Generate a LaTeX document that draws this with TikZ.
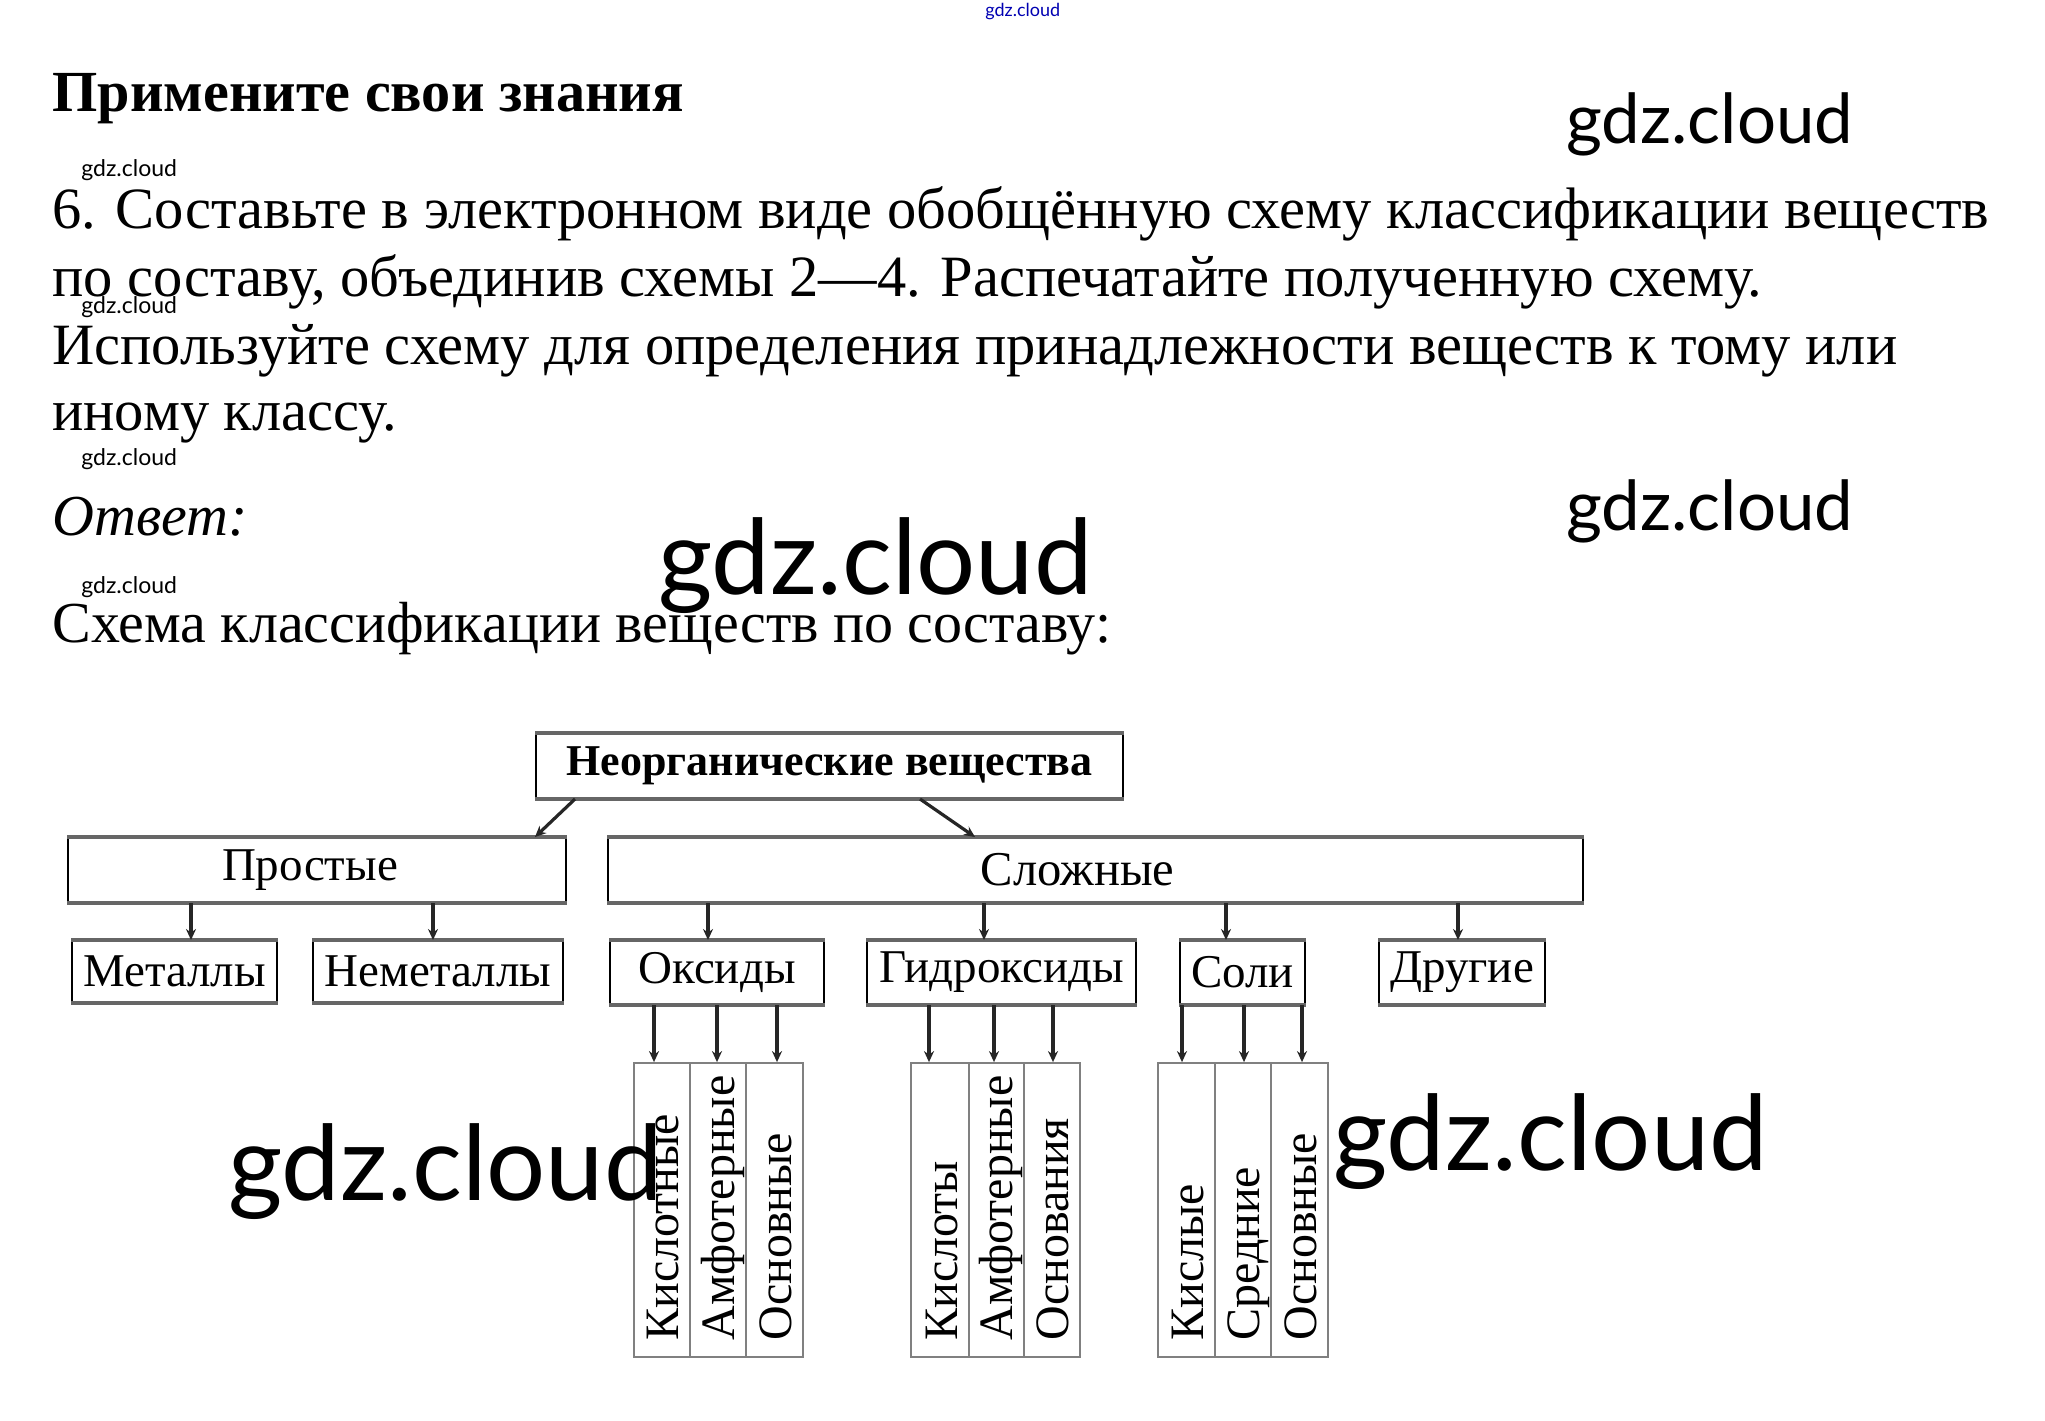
\documentclass[tikz,border=0pt]{standalone}
\usepackage{fontspec}
\setmainfont{Liberation Serif}
\newfontfamily\wmfont{Lato}
\usetikzlibrary{arrows.meta}
\newcommand\mkbox[7][0]{%
  \node[bx,minimum width={(#5-#3)*0.5pt},minimum height={(#6-#4)*0.5pt}] (#2) at ({(#3+#5)/2},{(#4+#6)/2}) {};
  \node[inner sep=0pt,font=\fontsize{23.5}{26}\selectfont] (#2t) at ([xshift=#1pt]#2.center) {#7};
  \draw[band] (#2.north west) -- (#2.north east);
  \draw[band] (#2.south west) -- (#2.south east);}
\newcommand\mkcol[4]{%
  \node[col,minimum width={(#3-#2)*0.5pt},minimum height=147pt] (#1) at ({(#2+#3)/2},1210) {};
  \node[coltext] (#1t) at ([xshift=-6pt,yshift=8.5pt]#1.south east) {#4};}
\begin{document}
\begin{tikzpicture}[x=0.5pt,y=-0.5pt,
  bx/.style={draw=black,line width=1pt,fill=white,inner sep=0pt},
  band/.style={draw=black!60,line width=2pt},
  col/.style={draw=black!50,line width=0.9pt,inner sep=0pt},
  coltext/.style={rotate=90,anchor=base west,inner sep=0pt,font=\fontsize{24}{26}\selectfont},
  arr/.style={draw=black!85,line width=1.6pt,-{Stealth[length=5.5pt,width=5pt]}},
  body/.style={anchor=base west,inner sep=0pt,font=\fontsize{29.25}{34}\selectfont},
  wm/.style={anchor=base west,inner sep=0pt}]
\useasboundingbox (0,0) rectangle (2045,1420);
\fill[white] (0,0) rectangle (2045,1420);
% texts
\node[body,font=\bfseries\fontsize{29.1}{32}\selectfont] (head) at (52,111) {Примените свои знания};
\node[body] (l1) at (52,228) {6. Составьте в электронном виде обобщённую схему классификации веществ};
\node[body] (l2) at (52,296) {по составу, объединив схемы 2—4. Распечатайте полученную схему.};
\node[body] (l3) at (52,364) {Используйте схему для определения принадлежности веществ к тому или};
\node[body] (l4) at (52,430) {иному классу.};
\node[body,font=\itshape\fontsize{29}{34}\selectfont] (otv) at (52,535) {Ответ:};
\node[body,font=\fontsize{29}{34}\selectfont] (sch) at (52,642) {Схема классификации веществ по составу:};
% boxes
\mkbox{top}{536}{734}{1123}{798}{\fontsize{22}{24}\selectfont\bfseries Неорганические вещества}
\mkbox[-3.5]{prost}{68}{838}{566}{902}{Простые}
\mkbox[-9]{slozh}{608}{838}{1583}{902}{\fontsize{24.3}{26}\selectfont Сложные}
\mkbox{met}{72}{941}{277}{1002}{Металлы}
\mkbox{nemet}{313}{941}{563}{1002}{Неметаллы}
\mkbox{oks}{610}{941}{824}{1004}{Оксиды}
\mkbox{gidr}{867}{941}{1136}{1004}{Гидроксиды}
\mkbox{soli}{1180}{941}{1305}{1004}{Соли}
\mkbox{drug}{1379}{941}{1545}{1004}{Другие}
% columns
\mkcol{ok1}{634}{690}{Кислотные}
\mkcol{ok2}{690}{746}{Амфотерные}
\mkcol{ok3}{746}{803}{Основные}
\mkcol{gi1}{911}{969}{Кислоты}
\mkcol{gi2}{969}{1024}{Амфотерные}
\mkcol{gi3}{1024}{1080}{Основания}
\mkcol{so1}{1158}{1215}{Кислые}
\mkcol{so2}{1215}{1271}{Средние}
\mkcol{so3}{1271}{1328}{Основные}
% arrows
\draw[arr] (top.south -| 575,0) -- (prost.north -| 535,0);
\draw[arr] (top.south -| 920,0) -- (slozh.north -| 975,0);
\draw[arr] (prost.south -| 191,0) -- (met.north -| 191,0);
\draw[arr] (prost.south -| 433,0) -- (nemet.north -| 433,0);
\draw[arr] (slozh.south -| 708,0) -- (oks.north -| 708,0);
\draw[arr] (slozh.south -| 984,0) -- (gidr.north -| 984,0);
\draw[arr] (slozh.south -| 1226,0) -- (soli.north -| 1226,0);
\draw[arr] (slozh.south -| 1458,0) -- (drug.north -| 1458,0);
\draw[arr] (oks.south -| 654,0) -- (ok1.north -| 654,0);
\draw[arr] (oks.south -| 717,0) -- (ok2.north -| 717,0);
\draw[arr] (oks.south -| 777,0) -- (ok3.north -| 777,0);
\draw[arr] (gidr.south -| 929,0) -- (gi1.north -| 929,0);
\draw[arr] (gidr.south -| 994,0) -- (gi2.north -| 994,0);
\draw[arr] (gidr.south -| 1053,0) -- (gi3.north -| 1053,0);
\draw[arr] (soli.south -| 1182,0) -- (so1.north -| 1182,0);
\draw[arr] (soli.south -| 1244,0) -- (so2.north -| 1244,0);
\draw[arr] (soli.south -| 1302,0) -- (so3.north -| 1302,0);
% watermarks
\node[wm,font=\wmfont\fontsize{9}{10}\selectfont,text=blue!70!black] (w0) at (985,16) {gdz.cloud};
\node[wm,font=\wmfont\fontsize{34.5}{36}\selectfont] (w1) at (1566,143) {gdz.cloud};
\node[wm,font=\wmfont\fontsize{34.5}{36}\selectfont] (w2) at (1566,530) {gdz.cloud};
\node[wm,font=\wmfont\fontsize{11.5}{12}\selectfont] (s1) at (81,176) {gdz.cloud};
\node[wm,font=\wmfont\fontsize{11.5}{12}\selectfont] (s2) at (81,313) {gdz.cloud};
\node[wm,font=\wmfont\fontsize{11.5}{12}\selectfont] (s3) at (81,465) {gdz.cloud};
\node[wm,font=\wmfont\fontsize{11.5}{12}\selectfont] (s4) at (81,593) {gdz.cloud};
\node[wm,font=\wmfont\fontsize{52.2}{54}\selectfont] (b1) at (658,594) {gdz.cloud};
\node[wm,font=\wmfont\fontsize{52.2}{54}\selectfont] (b2) at (228,1200) {gdz.cloud};
\node[wm,font=\wmfont\fontsize{52.2}{54}\selectfont] (b3) at (1333,1170) {gdz.cloud};
\end{tikzpicture}
\end{document}
